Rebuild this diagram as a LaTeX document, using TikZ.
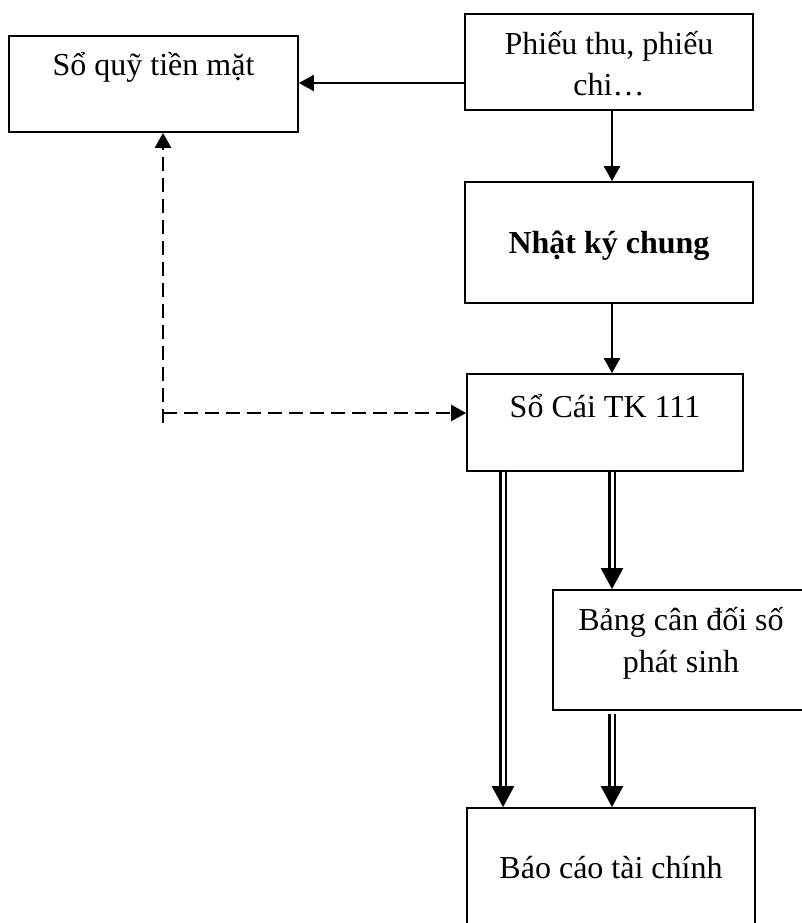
\documentclass[tikz,border=0pt]{standalone}
\usepackage{fontspec}
\setmainfont{Liberation Serif}
\usetikzlibrary{arrows.meta}
\tikzset{
  box/.style={draw=black, line width=1.7pt, rectangle, inner sep=0pt},
  txt/.style={anchor=base, inner sep=0pt, font=\fontsize{32}{42}\selectfont},
  sarrow/.style={draw=black, line width=2pt, -{Triangle[width=16pt,length=15pt]}},
  darrow/.style={draw=black, line width=2.5pt, -{Triangle[width=16pt,length=15pt]}, dash pattern=on 14pt off 7pt},
  dblarrow/.style={draw=black, line width=2.3pt, double=white, double distance=3pt, -{Triangle[width=22pt,length=21pt]}},
}
\begin{document}
\begin{tikzpicture}[x=1pt,y=-1pt]
\useasboundingbox (0,0) rectangle (802,923);
\clip (0,0) rectangle (802,923);
% boxes
\node[box, minimum width=289pt, minimum height=96pt] (quy) at (153.5,84) {};
\node[box, minimum width=288pt, minimum height=96pt] (phieu) at (609,62) {};
\node[box, minimum width=288pt, minimum height=121pt] (nkc) at (609,242.5) {};
\node[box, minimum width=276pt, minimum height=97pt] (socai) at (605,422.5) {};
\node[box, minimum width=256pt, minimum height=120pt] (bang) at (681,650) {};
\node[box, minimum width=288pt, minimum height=130pt] (bao) at (611,873) {};
% texts
\node[txt] (tquy) at (153.5,76) {Sổ quỹ tiền mặt};
\node[txt] (tphieu1) at (609,55) {Phiếu thu, phiếu};
\node[txt] (tphieu2) at (609,96) {chi…};
\node[txt, font=\fontsize{32}{42}\selectfont\bfseries] (tnkc) at (609,253) {Nhật ký chung};
\node[txt] (tsocai) at (605,417) {Sổ Cái TK 111};
\node[txt] (tbang1) at (681,630) {Bảng cân đối số};
\node[txt] (tbang2) at (681,672) {phát sinh};
\node[txt] (tbao) at (611,878) {Báo cáo tài chính};
% helper coordinates
\coordinate (ya) at (0,83);
\coordinate (dcorner) at (163,413);
\coordinate (dend) at (163,423);
\coordinate (xl) at (503,0);
\coordinate (xr) at (612,0);
% connectors
\draw[sarrow] (phieu.west |- ya) -- (quy.east |- ya);
\draw[sarrow] (phieu.south -| xr) -- (nkc.north -| xr);
\draw[sarrow] (nkc.south -| xr) -- (socai.north -| xr);
\draw[darrow] (dend) -- (dcorner |- quy.south);
\draw[darrow] (dcorner) -- (socai.west |- dcorner);
\draw[dblarrow] (socai.south -| xl) -- (bao.north -| xl);
\draw[dblarrow] (socai.south -| xr) -- (bang.north -| xr);
\draw[dblarrow, shorten <=3pt] (bang.south -| xr) -- (bao.north -| xr);
\end{tikzpicture}
\end{document}
